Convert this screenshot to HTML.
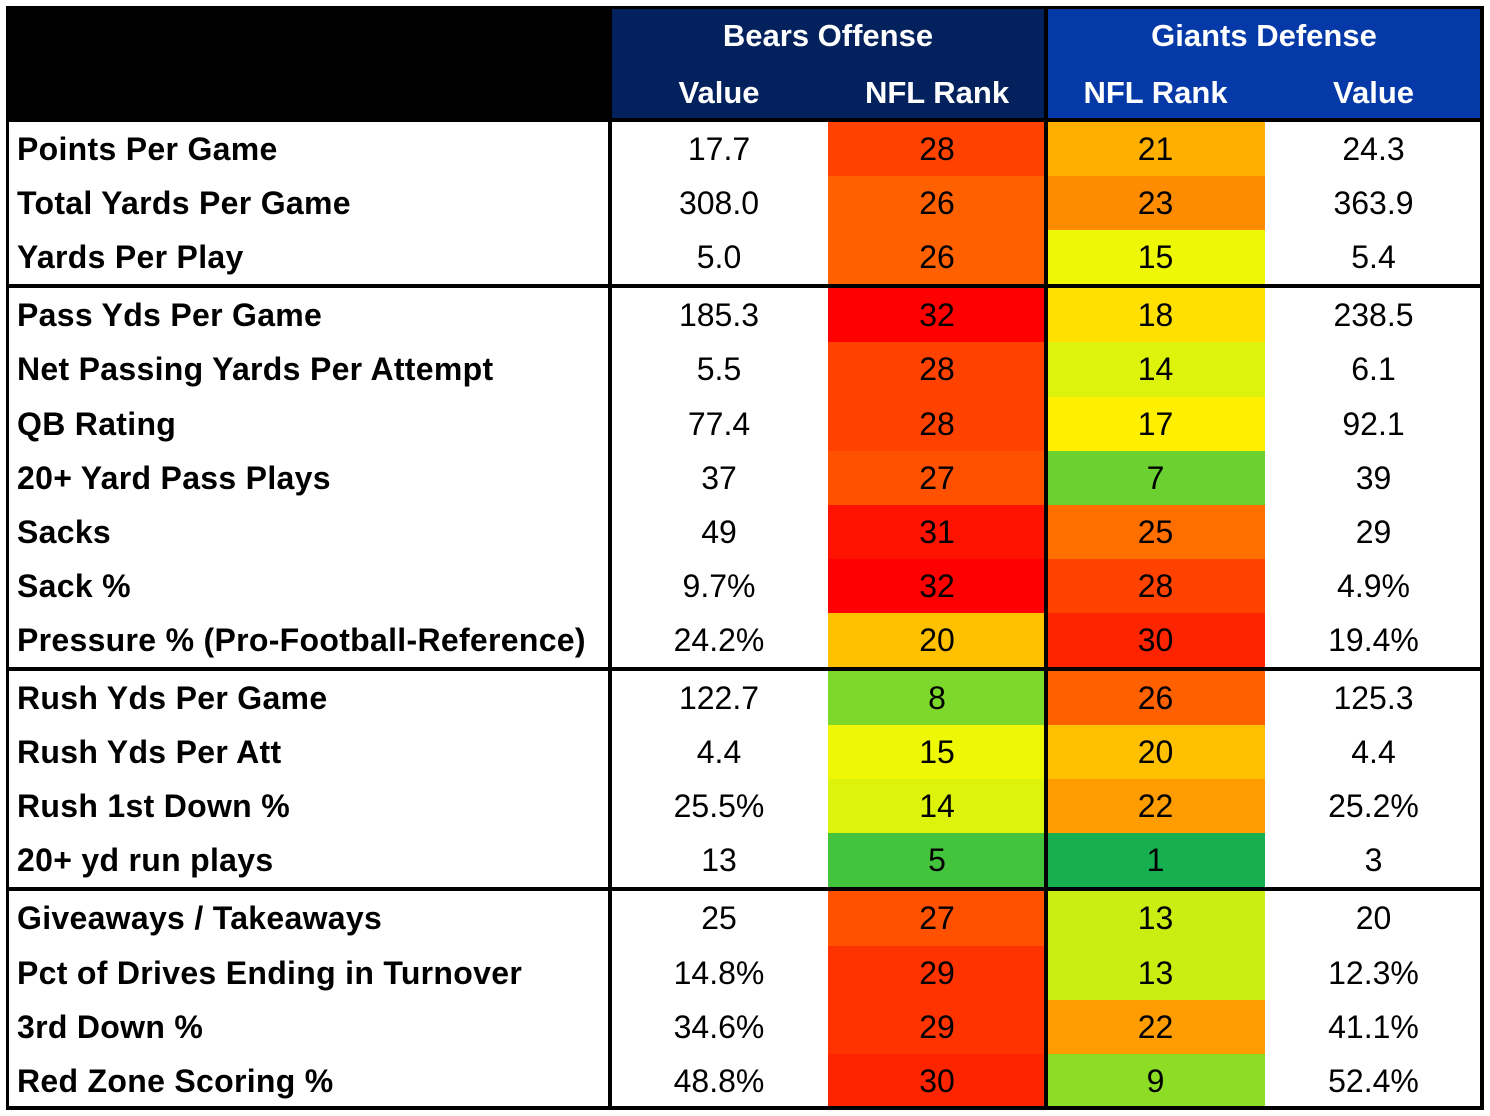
<!DOCTYPE html>
<html><head><meta charset="utf-8"><style>
body{margin:0;width:1490px;height:1116px;background:#fff;font-family:"Liberation Sans",sans-serif;position:relative;overflow:hidden}
.a{position:absolute;box-sizing:border-box}
.c{display:flex;align-items:center;justify-content:center;font-size:32px;color:#000}
.l{display:flex;align-items:center;font-size:32px;font-weight:bold;padding-left:9px;white-space:nowrap;letter-spacing:0.3px}
.h{display:flex;align-items:center;justify-content:center;color:#fff;font-weight:bold;font-size:31px}
.ln{background:#000}
</style></head><body>
<div id="t"></div>
<script>
const labels=["Points Per Game","Total Yards Per Game","Yards Per Play","Pass Yds Per Game","Net Passing Yards Per Attempt","QB Rating","20+ Yard Pass Plays","Sacks","Sack %","Pressure % (Pro-Football-Reference)","Rush Yds Per Game","Rush Yds Per Att","Rush 1st Down %","20+ yd run plays","Giveaways / Takeaways","Pct of Drives Ending in Turnover","3rd Down %","Red Zone Scoring %"];
const bearsValue=["17.7","308.0","5.0","185.3","5.5","77.4","37","49","9.7%","24.2%","122.7","4.4","25.5%","13","25","14.8%","34.6%","48.8%"];
const bearsRank=[28,26,26,32,28,28,27,31,32,20,8,15,14,5,27,29,29,30];
const giantsRank=[21,23,15,18,14,17,7,25,28,30,26,20,22,1,13,13,22,9];
const giantsValue=["24.3","363.9","5.4","238.5","6.1","92.1","39","29","4.9%","19.4%","125.3","4.4","25.2%","3","20","12.3%","41.1%","52.4%"];
const sectionEnds=[3,10,14];
const stops=[[1,[22,176,80]],[5,[68,196,60]],[8,[126,216,43]],[13,[203,238,18]],[15,[238,248,6]],[17,[255,240,0]],[20,[255,192,0]],[23,[255,140,0]],[26,[255,96,0]],[28,[255,66,0]],[30,[255,36,0]],[32,[255,0,0]]];
function col(r){for(let i=0;i<stops.length-1;i++){const[a,ca]=stops[i],[b,cb]=stops[i+1];if(r>=a&&r<=b){const f=(r-a)/(b-a);return`rgb(${ca.map((v,k)=>Math.round(v+(cb[k]-v)*f)).join(',')})`;}}return'#fff';}
const T=document.getElementById('t');
function mk(cls,x,y,w,h,txt,bg,name){const d=document.createElement('div');d.className='a '+cls;d.style.cssText=`left:${x}px;top:${y}px;width:${w}px;height:${h}px;`+(bg?`background:${bg};`:'');if(txt!==undefined)d.textContent=txt;


T.appendChild(d);return d;}
const X=[8,610,828,1046,1265,1482];
mk('',8,8,602,112,undefined,'#000','header-blank');
mk('',610,8,436,112,undefined,'#03215c','bears-header-bg');
mk('',1046,8,436,112,undefined,'#0539a8','giants-header-bg');
mk('h',610,8,436,56,'Bears Offense',null,'bears-offense-title');
mk('h',1046,8,436,56,'Giants Defense',null,'giants-defense-title');
mk('h',610,64,218,58,'Value',null,'bears-value-header');
mk('h',828,64,218,58,'NFL Rank',null,'bears-rank-header');
mk('h',1046,64,219,58,'NFL Rank',null,'giants-rank-header');
mk('h',1265,64,217,58,'Value',null,'giants-value-header');
let y=122;const rh=54.1;const seps=[];
for(let i=0;i<labels.length;i++){
 const y0=Math.round(y),h=Math.round(y+rh)-y0;
 mk('l',X[0],y0,X[1]-X[0],h,labels[i],null,'row-label');
 mk('c',X[1],y0,X[2]-X[1],h,bearsValue[i],null,'bears-value');
 mk('c',X[2],y0,X[3]-X[2],h,bearsRank[i],col(bearsRank[i]),'bears-rank');
 mk('c',X[3],y0,X[4]-X[3],h,giantsRank[i],col(giantsRank[i]),'giants-rank');
 mk('c',X[4],y0,X[5]-X[4],h,giantsValue[i],null,'giants-value');
 y+=rh;
 if(sectionEnds.includes(i+1)){seps.push(Math.round(y));y+=4;}
}
mk('ln',6,6,1478,3,undefined,null,'border-top');
mk('ln',6,118,1478,4,undefined,null,'header-bottom-line');
mk('ln',6,1106,1478,4,undefined,null,'border-bottom');
mk('ln',6,6,3,1104,undefined,null,'border-left');
mk('ln',1480,6,4,1104,undefined,null,'border-right');
mk('ln',608,6,4,1104,undefined,null,'label-divider');
mk('ln',1044,6,4,1104,undefined,null,'team-divider');
seps.forEach(s=>mk('ln',6,s,1478,4,undefined,null,'section-divider'));
</script>
</body></html>
